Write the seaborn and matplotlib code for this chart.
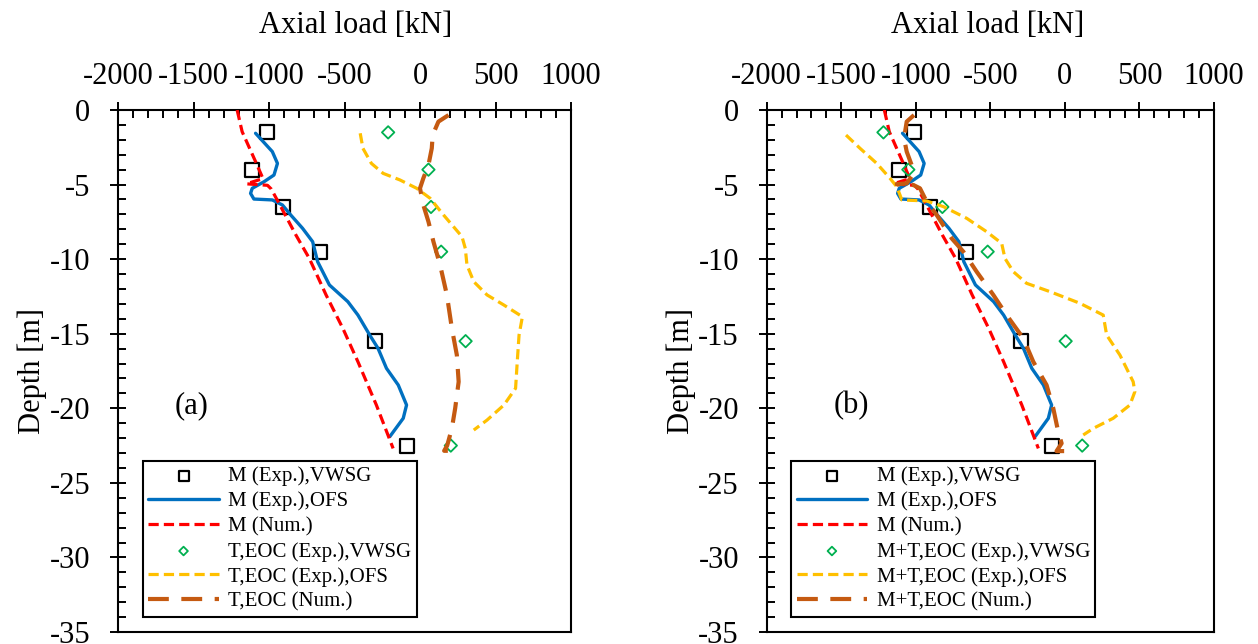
import matplotlib
matplotlib.use("Agg")
import matplotlib.pyplot as plt
from matplotlib.ticker import MultipleLocator
import seaborn as sns
import numpy as np

# ---------------- data ----------------
vwsg_depth = [-1.5, -4.0, -6.5, -9.5, -15.5, -22.5]
m_vwsg = [-1010, -1110, -905, -660, -296, -84]          # M (Exp.), VWSG
t_vwsg = [-211, 56, 73, 140, 302, 204]                  # T,EOC (Exp.), VWSG
mt_vwsg = [-1217, -1050, -822, -518, 5, 116]            # M+T,EOC (Exp.), VWSG

m_ofs_depth = [-1.56, -2.79, -3.58, -4.36, -4.81, -5.25, -5.59, -5.97, -6.03, -6.37,
               -7.04, -7.93, -8.83, -10.17, -11.73, -12.85, -13.75, -15.09, -15.98,
               -17.32, -18.44, -19.78, -20.67, -21.9]
m_ofs_load = [-1089, -978, -944, -967, -1033, -1111, -1122, -1100, -978, -911,
              -856, -778, -711, -678, -600, -478, -411, -333, -278,
              -222, -144, -89, -111, -200]

m_num_depth = [0.0, -1.45, -3.46, -4.6, -4.95, -5.05, -5.3, -6.48, -8.38, -9.95,
               -12.4, -14.64, -16.88, -19.78, -22.69]
m_num_load = [-1211, -1178, -1089, -1040, -1150, -1010, -985, -922, -822, -733,
              -622, -511, -411, -289, -178]

t_ofs_depth = [-1.56, -2.57, -3.58, -4.25, -4.69, -5.25, -5.92, -7.04, -8.49, -9.28,
               -10.39, -11.51, -12.4, -13.08, -13.86, -15.09, -16.88, -18.66, -19.78,
               -20.79, -21.46]
t_ofs_load = [-396, -378, -322, -244, -133, -22, 67, 156, 278, 300,
              311, 356, 444, 556, 678, 656, 644, 633, 556,
              444, 356]

t_num_depth = [-0.34, -0.78, -1.68, -2.57, -3.69, -4.58, -5.25, -6.37, -7.49, -8.83,
               -10.39, -12.4, -14.64, -16.43, -18.22, -20.0, -21.35, -22.5, -22.85, -22.85]
t_num_load = [189, 122, 84, 78, 56, 22, 0, 22, 56, 89,
              133, 178, 211, 244, 256, 233, 211, 180, 160, 256]

mt_ofs_depth = [-1.68, -2.57, -3.58, -4.58, -5.14, -5.7, -6.03, -6.1, -6.48, -7.26,
                -8.16, -8.94, -9.95, -10.84, -11.62, -12.18, -12.96, -13.75, -15.09,
                -16.43, -18.22, -18.89, -19.78, -20.67, -21.35, -21.79]
mt_ofs_load = [-1468, -1374, -1262, -1173, -1128, -1106, -1094, -927, -815, -659,
               -525, -424, -402, -346, -257, -100, 101, 257, 280,
               369, 458, 469, 436, 324, 190, 123]

mt_num_depth = [-0.34, -0.78, -1.9, -2.79, -3.69, -4.36, -4.92, -4.98, -5.03, -5.25,
                -6.15, -7.04, -8.61, -9.5, -10.84, -12.4, -13.75, -15.31, -16.88,
                -18.44, -20.0, -21.57, -22.35, -22.87, -22.87]
mt_num_load = [-1012, -1061, -1079, -1061, -1028, -1021, -1061, -1128, -1016, -972,
               -927, -860, -759, -681, -592, -480, -391, -279, -212,
               -123, -78, -45, -22, -56, 56]

labels_a = ["M (Exp.),VWSG", "M (Exp.),OFS", "M (Num.)",
            "T,EOC (Exp.),VWSG", "T,EOC (Exp.),OFS", "T,EOC (Num.)"]
labels_b = ["M (Exp.),VWSG", "M (Exp.),OFS", "M (Num.)",
            "M+T,EOC (Exp.),VWSG", "M+T,EOC (Exp.),OFS", "M+T,EOC (Num.)"]

x_ticks = [-2000, -1500, -1000, -500, 0, 500, 1000]
y_ticks = [0, -5, -10, -15, -20, -25, -30, -35]

# ---------------- style ----------------
sns.set_theme(style="white")
plt.rcParams["font.family"] = ["Liberation Serif", "DejaVu Serif"]
plt.rcParams["axes.unicode_minus"] = False
plt.rcParams["text.color"] = "black"
plt.rcParams["axes.labelcolor"] = "black"
plt.rcParams["xtick.color"] = "black"
plt.rcParams["ytick.color"] = "black"
plt.rcParams["axes.edgecolor"] = "black"

BLUE = "#0070C0"
RED = "#FF0000"
GREEN = "#00B050"
YELLOW = "#FFC000"
BROWN = "#C55A11"

W, H = 1258, 644
fig = plt.figure(figsize=(W / 100, H / 100), dpi=100)
ax_a = fig.add_axes([118 / W, 12 / H, 453 / W, 522 / H])
ax_b = fig.add_axes([766.7 / W, 12 / H, 447.3 / W, 522 / H])


def draw(ax, d_load, y_load, y_depth, n_load, n_depth, labels, letter, letter_x, title_x, ylab_x):
    sns.scatterplot(x=m_vwsg, y=vwsg_depth, ax=ax, marker="s", s=95, facecolor="white",
                    edgecolor="black", linewidth=1.6, label=labels[0], zorder=3)
    sns.lineplot(x=m_ofs_load, y=m_ofs_depth, ax=ax, sort=False, estimator=None,
                 color=BLUE, linewidth=2.4, label=labels[1], zorder=4)
    sns.lineplot(x=m_num_load, y=m_num_depth, ax=ax, sort=False, estimator=None,
                 color=RED, linewidth=2.3, linestyle=(0, (3.2, 1.6)), label=labels[2], zorder=5)
    sns.scatterplot(x=d_load, y=vwsg_depth, ax=ax, marker="D", s=40, facecolor="none",
                    edgecolor=GREEN, linewidth=1.3, label=labels[3], zorder=6)
    sns.lineplot(x=y_load, y=y_depth, ax=ax, sort=False, estimator=None,
                 color=YELLOW, linewidth=2.3, linestyle=(0, (3.2, 1.6)), label=labels[4], zorder=7)
    sns.lineplot(x=n_load, y=n_depth, ax=ax, sort=False, estimator=None,
                 color=BROWN, linewidth=3.0, linestyle=(0, (5, 3)), label=labels[5], zorder=8)

    ax.set_xlim(-2000, 1000)
    ax.set_ylim(-35, 0)
    ax.set_xticks(x_ticks)
    ax.set_yticks(y_ticks)
    ax.xaxis.set_minor_locator(MultipleLocator(100))
    ax.yaxis.set_minor_locator(MultipleLocator(1))
    ax.xaxis.tick_top()
    ax.xaxis.set_label_position("top")
    ax.tick_params(axis="both", which="major", direction="inout", length=12, width=1.4,
                   labelsize=22)
    ax.tick_params(axis="both", which="minor", direction="in", length=6, width=1.4)
    ax.tick_params(axis="x", which="both", top=True, bottom=False)
    ax.tick_params(axis="y", which="both", left=True, right=False)
    ax.tick_params(axis="x", which="major", pad=7.5)
    ax.tick_params(axis="y", which="major", pad=14)
    for sp in ax.spines.values():
        sp.set_visible(True)
        sp.set_color("black")
        sp.set_linewidth(1.5)

    ax.set_xlabel("Axial load [kN]", fontsize=22)
    ax.xaxis.set_label_coords(title_x, 1.1628)
    ax.xaxis.label.set_va("center")
    ax.set_ylabel("Depth [m]", fontsize=22)
    ax.yaxis.set_label_coords(ylab_x, 0.5)
    ax.yaxis.label.set_va("center")

    ax.text(letter_x, -19.8, letter, fontsize=22, ha="center", va="center")

    h, l = ax.get_legend_handles_labels()
    lookup = dict(zip(l, h))
    leg = ax.legend([lookup[k] for k in labels], labels, loc="lower left",
                    bbox_to_anchor=(0.055, 0.029), borderaxespad=0, fontsize=15,
                    frameon=True, fancybox=False, framealpha=1, edgecolor="black",
                    borderpad=0.25, labelspacing=0.26, handlelength=3.4,
                    handletextpad=0.45, markerscale=0.7)
    leg.get_frame().set_linewidth(1.5)


draw(ax_a, t_vwsg, t_ofs_load, t_ofs_depth, t_num_load, t_num_depth, labels_a,
     "(a)", -1510, 0.525, -0.19)
draw(ax_b, mt_vwsg, mt_ofs_load, mt_ofs_depth, mt_num_load, mt_num_depth, labels_b,
     "(b)", -1430, 0.493, -0.19)

fig.savefig("out.png", dpi=100)
